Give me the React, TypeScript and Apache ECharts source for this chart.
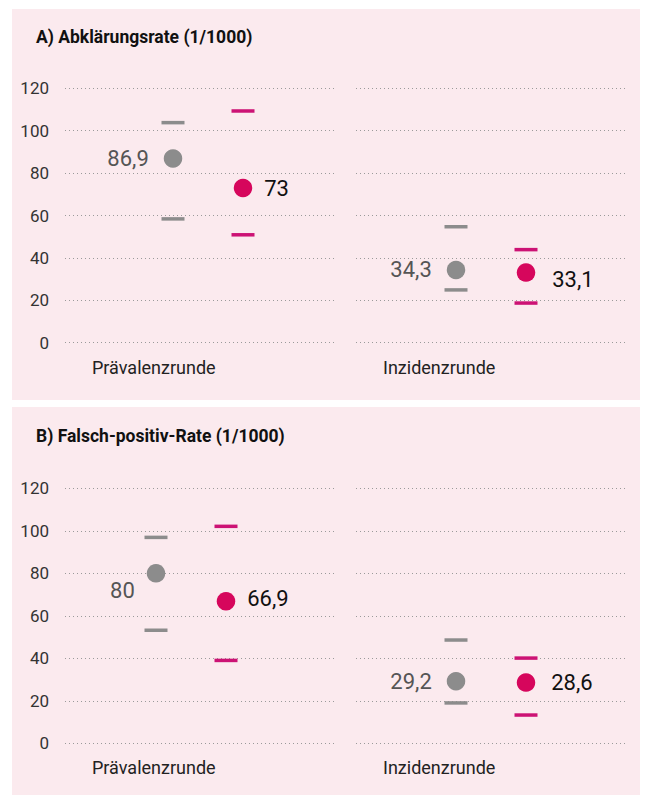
import React, { useEffect, useRef } from "react";
import * as echarts from "echarts";

// ---- data ----
const panelTitles = ["A) Abklärungsrate (1/1000)", "B) Falsch-positiv-Rate (1/1000)"];
const rounds = ["Prävalenzrunde", "Inzidenzrunde"];
const yMin = 0;
const yMax = 120;
const yInterval = 20;
// indexed [panel][round]
const grayValues = [[86.9, 34.3], [80, 29.2]];
const grayLower = [[58.4, 24.9], [53.2, 19.0]];
const grayUpper = [[103.8, 54.7], [96.9, 48.6]];
const pinkValues = [[73, 33.1], [66.9, 28.6]];
const pinkLower = [[50.9, 18.7], [39.0, 13.3]];
const pinkUpper = [[109.3, 43.9], [102.1, 40.1]];

// ---- style / layout ----
const BG = "#fbeaee";
const GRAY = "#8c8c8c";
const PINK_DOT = "#d6065c";
const PINK_TICK = "#cc1274";
const FONT = "Roboto, 'Noto Sans', sans-serif";

const panelBoxes = [
  { y: 9, h: 391 },
  { y: 407, h: 388 },
];
const plotTop = [88.3, 488.3];
const plotHeight = [254.4, 255];
const frameLeft = [65, 356];
const frameWidth = [269, 270];
const dataLeft = [
  [138, 421],
  [121, 421],
];
const dataWidth = 140;
const titleY = [37, 436];
const roundLabelY = [367, 767.5];
const roundLabelX = [92, 383];
const grayLabelOffset = [
  [[0, 0], [0, 0]],
  [[3, 17], [0, 0]],
];
const pinkLabelOffset = [
  [[0, 1], [5, 7]],
  [[0, -3], [4, 0]],
];

const fmt = (v: number) => String(v).replace(".", ",");

function buildOption() {
  const grid: any[] = [];
  const xAxis: any[] = [];
  const yAxis: any[] = [];
  const series: any[] = [];
  const graphic: any[] = [];

  panelBoxes.forEach((b, p) => {
    graphic.push({
      type: "rect",
      z: -100,
      silent: true,
      shape: { x: 12, y: b.y, width: 628, height: b.h },
      style: { fill: BG },
    });
    graphic.push({
      type: "text",
      x: 36,
      y: titleY[p],
      style: {
        text: panelTitles[p],
        font: `bold 17.5px ${FONT}`,
        fill: "#111",
        textVerticalAlign: "middle",
      },
    });
  });

  for (let p = 0; p < 2; p++) {
    for (let r = 0; r < 2; r++) {
      // frame grid (gridlines + y labels)
      const fi = grid.length;
      grid.push({
        left: frameLeft[r],
        width: frameWidth[r],
        top: plotTop[p],
        height: plotHeight[p],
        containLabel: false,
      });
      xAxis.push({
        gridIndex: fi,
        type: "category",
        data: [rounds[r]],
        show: false,
      });
      yAxis.push({
        gridIndex: fi,
        type: "value",
        min: yMin,
        max: yMax,
        interval: yInterval,
        axisLine: { show: false },
        axisTick: { show: false },
        axisLabel: {
          show: r === 0,
          margin: 16,
          color: "#333",
          fontSize: 17,
          fontFamily: FONT,
        },
        splitLine: {
          show: true,
          lineStyle: { color: "#9a9a9a", width: 1, type: [1, 3] },
        },
      });
      graphic.push({
        type: "text",
        x: roundLabelX[r],
        y: roundLabelY[p],
        style: {
          text: rounds[r],
          font: `18px ${FONT}`,
          fill: "#222",
          textVerticalAlign: "middle",
        },
      });

      // data grid
      const di = grid.length;
      grid.push({
        left: dataLeft[p][r],
        width: dataWidth,
        top: plotTop[p],
        height: plotHeight[p],
        containLabel: false,
      });
      xAxis.push({
        gridIndex: di,
        type: "category",
        data: ["grau", "pink"],
        boundaryGap: true,
        show: false,
      });
      yAxis.push({
        gridIndex: di,
        type: "value",
        min: yMin,
        max: yMax,
        interval: yInterval,
        show: false,
        splitLine: { show: false },
      });

      series.push({
        type: "scatter",
        xAxisIndex: di,
        yAxisIndex: di,
        symbol: "rect",
        symbolSize: [23, 3.5],
        z: 3,
        silent: true,
        itemStyle: { opacity: 1 },
        data: [
          { value: [0, grayLower[p][r]], itemStyle: { color: GRAY, opacity: 1 } },
          { value: [0, grayUpper[p][r]], itemStyle: { color: GRAY, opacity: 1 } },
          { value: [1, pinkLower[p][r]], itemStyle: { color: PINK_TICK, opacity: 1 } },
          { value: [1, pinkUpper[p][r]], itemStyle: { color: PINK_TICK, opacity: 1 } },
        ],
      });
      series.push({
        type: "scatter",
        xAxisIndex: di,
        yAxisIndex: di,
        symbol: "circle",
        symbolSize: 18.5,
        z: 4,
        silent: true,
        itemStyle: { opacity: 1 },
        data: [
          {
            value: [0, grayValues[p][r]],
            itemStyle: { color: GRAY, opacity: 1 },
            label: {
              show: true,
              position: "left",
              distance: 15,
              offset: grayLabelOffset[p][r],
              formatter: fmt(grayValues[p][r]),
              color: "#555",
              fontSize: 22,
              fontFamily: FONT,
            },
          },
          {
            value: [1, pinkValues[p][r]],
            itemStyle: { color: PINK_DOT, opacity: 1 },
            label: {
              show: true,
              position: "right",
              distance: 12,
              offset: pinkLabelOffset[p][r],
              formatter: fmt(pinkValues[p][r]),
              color: "#111",
              fontSize: 22,
              fontFamily: FONT,
            },
          },
        ],
      });
    }
  }

  return {
    animation: false,
    backgroundColor: "#ffffff",
    textStyle: { fontFamily: FONT },
    grid,
    xAxis,
    yAxis,
    series,
    graphic,
  };
}

export default function App() {
  const ref = useRef<HTMLDivElement>(null);
  useEffect(() => {
    if (!ref.current) return;
    const chart = echarts.init(ref.current, null, { renderer: "svg" });
    chart.setOption(buildOption() as any);
    return () => chart.dispose();
  }, []);
  return (
    <div
      ref={ref}
      style={{ position: "absolute", left: 0, top: 0, width: 646, height: 795 }}
    />
  );
}
